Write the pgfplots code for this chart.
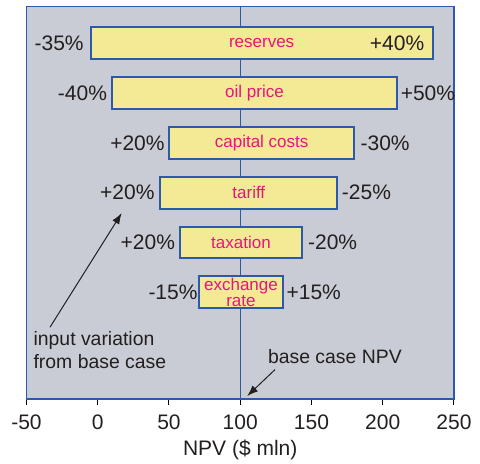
\documentclass[border=0pt]{standalone}
\usepackage{pgfplots}
\pgfplotsset{compat=1.18}
\usepackage{fontspec}
\setmainfont{Liberation Sans}
\usetikzlibrary{arrows.meta}

\definecolor{bggray}{RGB}{201,204,212}
\definecolor{baryellow}{RGB}{244,234,150}
\definecolor{barblue}{RGB}{43,90,170}
\definecolor{labelpink}{RGB}{232,20,124}
\definecolor{txt}{RGB}{35,31,32}

\newcommand{\pct}{\fontsize{10.5bp}{12bp}\selectfont}
\newcommand{\barfont}{\fontsize{8.5bp}{7bp}\selectfont}
\newcommand{\notefont}{\fontsize{9.7bp}{11bp}\selectfont}

\begin{document}
\begin{tikzpicture}
\useasboundingbox (-13.25bp,-32.5bp) rectangle (226.75bp,199.5bp);
\begin{axis}[
    scale only axis,
    width=213.75bp, height=196.15bp,
    xmin=-50, xmax=250,
    ymin=-1.14, ymax=6.73,
    xtick={-50,0,...,250},
    ytick=\empty,
    xtick pos=bottom,
    tick align=outside,
    major tick length=3bp,
    major tick style={black, line width=0.5bp},
    axis line style={barblue, line width=0.7bp},
    axis background/.style={fill=bggray},
    /pgf/number format/assume math mode=true,
    ticklabel style={font=\pct, text=txt},
    xticklabel style={yshift=-1.5bp},
    xlabel={NPV (\$ mln)},
    xlabel style={font=\pct, text=txt, yshift=2bp},
    clip=false,
    tbar/.style={draw=barblue, fill=baryellow, line width=1bp, line join=miter},
]
% base case line
\addplot[barblue, line width=0.6bp] coordinates {(100,-1.14) (100,6.73)};

% tornado bars: (low,y-0.32) .. (high,y+0.32)
\addplot[tbar] coordinates {(-5,5.68) (235,5.68) (235,6.32) (-5,6.32)} -- cycle;
\addplot[tbar] coordinates {(10,4.68) (210,4.68) (210,5.32) (10,5.32)} -- cycle;
\addplot[tbar] coordinates {(50,3.68) (180,3.68) (180,4.32) (50,4.32)} -- cycle;
\addplot[tbar] coordinates {(44,2.68) (168,2.68) (168,3.32) (44,3.32)} -- cycle;
\addplot[tbar] coordinates {(58,1.68) (143,1.68) (143,2.32) (58,2.32)} -- cycle;
\addplot[tbar] coordinates {(71,0.68) (130,0.68) (130,1.32) (71,1.32)} -- cycle;

% factor names
\node[font=\barfont, text=labelpink] at (115,6) {reserves};
\node[font=\barfont, text=labelpink] at (110,5) {oil price};
\node[font=\barfont, text=labelpink] at (115,4) {capital costs};
\node[font=\barfont, text=labelpink] at (106,3) {tariff};
\node[font=\barfont, text=labelpink] at (100.5,2) {taxation};
\node[font=\barfont, text=labelpink, align=center] at (100.5,1) {exchange\\rate};

% input variations
\node[font=\pct, text=txt, inner sep=0pt, anchor=east, xshift=-3.3bp] at (-5,6) {-35\%};
\node[font=\pct, text=txt, inner sep=0pt, anchor=east, xshift=-4bp] at (235,6) {+40\%};
\node[font=\pct, text=txt, inner sep=0pt, anchor=east, xshift=-2.3bp] at (10,5) {-40\%};
\node[font=\pct, text=txt, inner sep=0pt, anchor=west, xshift=1.7bp] at (210,5) {+50\%};
\node[font=\pct, text=txt, inner sep=0pt, anchor=east, xshift=-2bp] at (50,4) {+20\%};
\node[font=\pct, text=txt, inner sep=0pt, anchor=west, xshift=3bp] at (180,4) {-30\%};
\node[font=\pct, text=txt, inner sep=0pt, anchor=east, xshift=-2.8bp] at (44,3) {+20\%};
\node[font=\pct, text=txt, inner sep=0pt, anchor=west, xshift=2.2bp] at (168,3) {-25\%};
\node[font=\pct, text=txt, inner sep=0pt, anchor=east, xshift=-2.5bp] at (58,2) {+20\%};
\node[font=\pct, text=txt, inner sep=0pt, anchor=west, xshift=3.1bp] at (143,2) {-20\%};
\node[font=\pct, text=txt, inner sep=0pt, anchor=east, xshift=-0.5bp] at (71,1) {-15\%};
\node[font=\pct, text=txt, inner sep=0pt, anchor=west, xshift=1.6bp] at (130,1) {+15\%};

% annotations
\draw[txt, line width=0.5bp, -{Latex[length=5.5bp, width=4bp]}] (-33.5,0.30) -- (16.8,2.59);
\draw[txt, line width=0.5bp, -{Latex[length=5.5bp, width=4bp]}] (124.4,-0.55) -- (104.9,-1.08);
\node[font=\notefont, text=txt, anchor=west, inner sep=0pt] at (-45.3,0.03) {input variation};
\node[font=\notefont, text=txt, anchor=west, inner sep=0pt] at (-45.3,-0.39) {from base case};
\node[font=\notefont, text=txt, anchor=west, inner sep=0pt] at (119.2,-0.28) {base case NPV};
\end{axis}
\end{tikzpicture}
\end{document}
